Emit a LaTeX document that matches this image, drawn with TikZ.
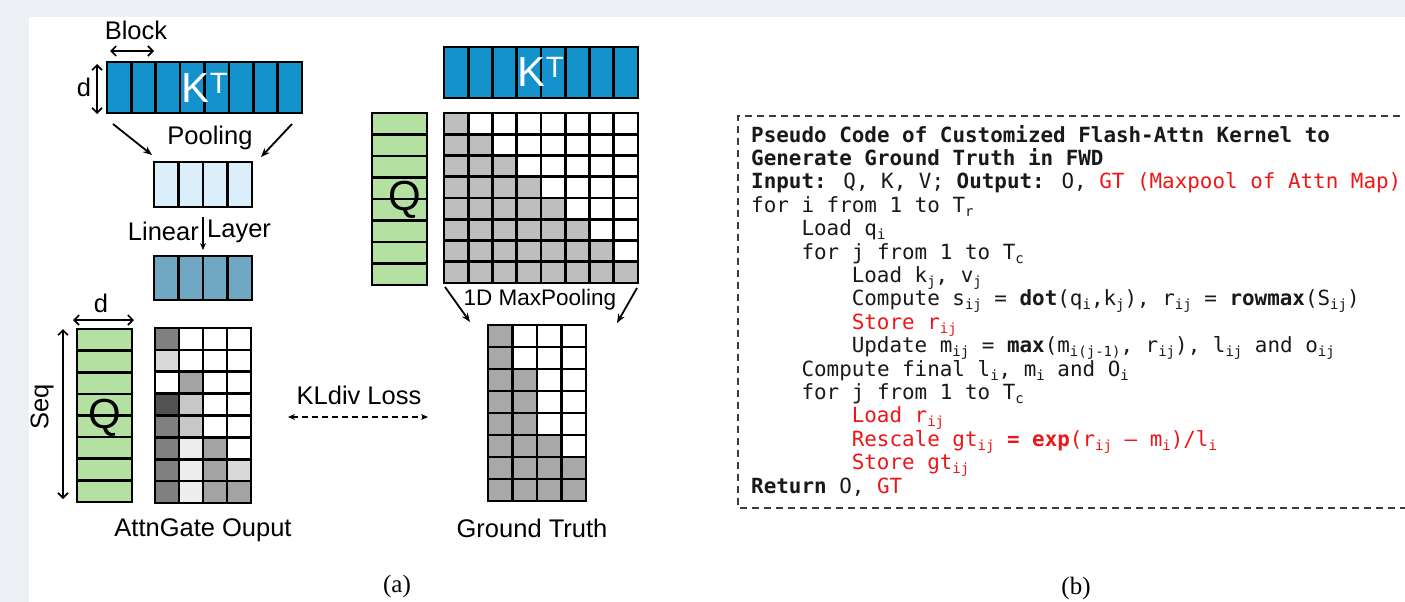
\documentclass[tikz,border=0pt]{standalone}
\usepackage{fontspec}
\setmainfont{Liberation Sans}
\newfontfamily\codefont{DejaVu Sans Mono}
\newfontfamily\capfont{Liberation Serif}
\usetikzlibrary{arrows.meta}

\definecolor{pagegray}{RGB}{238,240,245}
\definecolor{ktblue}{RGB}{20,146,204}
\definecolor{poolblue}{RGB}{218,239,250}
\definecolor{linblue}{RGB}{112,168,196}
\definecolor{qgreen}{RGB}{180,225,162}
\definecolor{causalgray}{RGB}{190,190,190}
\definecolor{gtgray}{RGB}{168,168,168}
\definecolor{codeblack}{RGB}{25,25,25}
\definecolor{codered}{RGB}{238,22,22}
\definecolor{boxgray}{RGB}{60,60,60}

% subscript in the pseudo code
\newcommand\sbs[1]{\raisebox{-0.2em}{\fontsize{14}{14}\selectfont #1}}
% inner lines of a block of cells: x0,y0,x1,y1,columns,rows
\newcommand\gridlines[6]{%
  \ifnum#5>1
    \foreach \k in {2,...,#5}{\draw[gridline] ({#1+(\k-1)*(#3-#1)/#5},#2) -- ({#1+(\k-1)*(#3-#1)/#5},#4);}
  \fi
  \ifnum#6>1
    \foreach \k in {2,...,#6}{\draw[gridline] (#1,{#2+(\k-1)*(#4-#2)/#6}) -- (#3,{#2+(\k-1)*(#4-#2)/#6});}
  \fi
  \draw[gridline] (#1,#2) rectangle (#3,#4);
}

\tikzset{
  gridline/.style={line width=2.7pt, black, line cap=rect},
  lbl/.style={inner sep=0pt, font=\fontsize{25.5}{27}\selectfont, text=black},
  biglbl/.style={inner sep=0pt, font=\fontsize{42}{44}\selectfont},
  dimarrow/.style={{Straight Barb[length=5pt,width=10pt]}-{Straight Barb[length=5pt,width=10pt]}, line width=1.6pt},
  flowarrow/.style={-{Stealth[length=9pt,width=7pt]}, line width=1.8pt},
  codeline/.style={anchor=base west, inner sep=0pt, font=\codefont\fontsize{20.9}{23}\selectfont, text=codeblack},
  dashbox/.style={line width=1.8pt, boxgray, dash pattern=on 7pt off 5pt},
}

\begin{document}
\begin{tikzpicture}[x=1pt,y=-1pt]
\useasboundingbox (0,0) rectangle (1405,602);
\fill[pagegray] (0,0) rectangle (1405,602);
\fill[white] (29,17) rectangle (1405,602);

% ---------------- AttnGate branch ----------------
% K^T with blocks
\fill[ktblue] (107,62) rectangle (302,113);
\gridlines{107}{62}{302}{113}{8}{1}
\node[biglbl, text=white] (ktA) at (205,88) {K\textsuperscript{T}};
\node[lbl] (blockLbl) at (136,30) {Block};
\coordinate (blkL) at (110,51); \coordinate (blkR) at (154,51);
\draw[dimarrow] (blkL) -- (blkR);
\node[lbl] (dA) at (84,87) {d};
\coordinate (dTop) at (97,64); \coordinate (dBot) at (97,114);
\draw[dimarrow] (dTop) -- (dBot);

% pooling
\node[lbl] (poolLbl) at (210,138) {Pooling};
\coordinate (plS) at (113,124); \coordinate (plE) at (152,155);
\coordinate (prS) at (292,124); \coordinate (prE) at (261,157);
\draw[flowarrow] (plS) -- (plE);
\draw[flowarrow] (prS) -- (prE);
\fill[poolblue] (154,162) rectangle (252,207);
\gridlines{154}{162}{252}{207}{4}{1}

% linear layer
\node[lbl, anchor=east] (linLbl) at (199,231) {Linear};
\node[lbl, anchor=west] (layLbl) at (207,231) {Layer};
\coordinate (linS) at (203,217); \coordinate (linE) at (203,250);
\draw[-{Stealth[length=7pt,width=6pt]}, line width=1.5pt] (linS) -- (linE);
\fill[linblue] (154,256) rectangle (252,300);
\gridlines{154}{256}{252}{300}{4}{1}

% Q and gate output
\node[lbl] (dB) at (101,303) {d};
\coordinate (dbL) at (73,320); \coordinate (dbR) at (134,320);
\draw[dimarrow] (dbL) -- (dbR);
\node[lbl, rotate=90] (seqLbl) at (42,407) {Seq};
\coordinate (seqT) at (63,329); \coordinate (seqB) at (63,499);
\draw[dimarrow] (seqT) -- (seqB);
\fill[qgreen] (77,329) rectangle (132,502);
\gridlines{77}{329}{132}{502}{1}{8}
\node[biglbl, text=black] (qA) at (105,418) {Q};

\fill[white] (155,328) rectangle (251,503);
\foreach \r/\c/\s in {1/1/50, 2/1/15, 3/2/36, 4/1/68, 4/2/22, 5/1/50, 5/2/22,
                      6/1/50, 6/2/7, 6/3/36, 7/1/50, 7/2/7, 7/3/36, 7/4/15,
                      8/1/50, 8/2/7, 8/3/36, 8/4/36}
  \fill[black!\s] ({155+(\c-1)*24},{328+(\r-1)*21.875}) rectangle ++(24,21.875);
\gridlines{155}{328}{251}{503}{4}{8}
\node[lbl] (gateLbl) at (203,530) {AttnGate Ouput};

% ---------------- ground truth branch ----------------
\fill[ktblue] (444,47) rectangle (638,98);
\gridlines{444}{47}{638}{98}{8}{1}
\node[biglbl, text=white] (ktB) at (541,72) {K\textsuperscript{T}};

\fill[qgreen] (372,113) rectangle (427,285);
\gridlines{372}{113}{427}{285}{1}{8}
\node[biglbl, text=black] (qB) at (405,200) {Q};

\fill[white] (444,113) rectangle (638,283);
\foreach \r in {1,...,8}
  \foreach \c in {1,...,\r}
    \fill[causalgray] ({444+(\c-1)*24.25},{113+(\r-1)*21.25}) rectangle ++(24.25,21.25);
\gridlines{444}{113}{638}{283}{8}{8}

\node[lbl, font=\fontsize{22.5}{24}\selectfont] (mpLbl) at (540,300) {1D MaxPooling};
\coordinate (mlS) at (445,287); \coordinate (mlE) at (470,322);
\coordinate (mrS) at (637,288); \coordinate (mrE) at (617,323);
\draw[flowarrow] (mlS) -- (mlE);
\draw[flowarrow] (mrS) -- (mrE);

\fill[white] (488,325) rectangle (586,501);
\foreach \r/\n in {1/1, 2/1, 3/2, 4/2, 5/2, 6/3, 7/4, 8/4}
  \foreach \c in {1,...,\n}
    \fill[gtgray] ({488+(\c-1)*24.5},{325+(\r-1)*22}) rectangle ++(24.5,22);
\gridlines{488}{325}{586}{501}{4}{8}
\node[lbl] (gtLbl) at (532,528) {Ground Truth};

% loss between the two maps
\node[lbl] (klLbl) at (359,395) {KLdiv Loss};
\coordinate (klL) at (288,417); \coordinate (klR) at (428,417);
\draw[{Stealth[length=7pt,width=6pt]}-{Stealth[length=7pt,width=6pt]}, line width=1.8pt, dash pattern=on 6pt off 4pt] (klL) -- (klR);

\node[inner sep=0pt, font=\capfont\fontsize{25}{27}\selectfont] (capA) at (397,586) {(a)};

% ---------------- pseudo code ----------------
\draw[dashbox] (1412,116) -- (738,116) -- (738,508) -- (1412,508);
\def\lx{751}
\def\ind{50.3}
\node[codeline] (c1) at (\lx,142) {\bfseries Pseudo Code of Customized Flash-Attn Kernel to};
\node[codeline] (c2) at (\lx,165.4) {\bfseries Generate Ground Truth in FWD};
\node[codeline] (c3) at (\lx,188.8) {\textbf{Input:} Q, K, V; \textbf{Output:} O, \textcolor{codered}{GT (Maxpool of Attn Map)}};
\node[codeline] (c4) at (\lx,212.2) {for i from 1 to T\sbs{r}};
\node[codeline] (c5) at (\lx+\ind,235.6) {Load q\sbs{i}};
\node[codeline] (c6) at (\lx+\ind,259) {for j from 1 to T\sbs{c}};
\node[codeline] (c7) at (\lx+2*\ind,282.4) {Load k\sbs{j}, v\sbs{j}};
\node[codeline] (c8) at (\lx+2*\ind,305.8) {Compute s\sbs{ij} = \textbf{dot}(q\sbs{i},k\sbs{j}), r\sbs{ij} = \textbf{rowmax}(S\sbs{ij})};
\node[codeline, text=codered] (c9) at (\lx+2*\ind,329.2) {Store r\sbs{ij}};
\node[codeline] (c10) at (\lx+2*\ind,352.6) {Update m\sbs{ij} = \textbf{max}(m\sbs{i(j-1)}, r\sbs{ij}), l\sbs{ij} and o\sbs{ij}};
\node[codeline] (c11) at (\lx+\ind,376) {Compute final l\sbs{i}, m\sbs{i} and O\sbs{i}};
\node[codeline] (c12) at (\lx+\ind,399.4) {for j from 1 to T\sbs{c}};
\node[codeline, text=codered] (c13) at (\lx+2*\ind,422.8) {Load r\sbs{ij}};
\node[codeline, text=codered] (c14) at (\lx+2*\ind,446.2) {Rescale gt\sbs{ij} \textbf{= exp}(r\sbs{ij} – m\sbs{i})/l\sbs{i}};
\node[codeline, text=codered] (c15) at (\lx+2*\ind,469.6) {Store gt\sbs{ij}};
\node[codeline] (c16) at (\lx,493) {\textbf{Return} O, \textcolor{codered}{GT}};

\node[inner sep=0pt, font=\capfont\fontsize{25}{27}\selectfont] (capB) at (1076,588) {(b)};
\end{tikzpicture}
\end{document}
